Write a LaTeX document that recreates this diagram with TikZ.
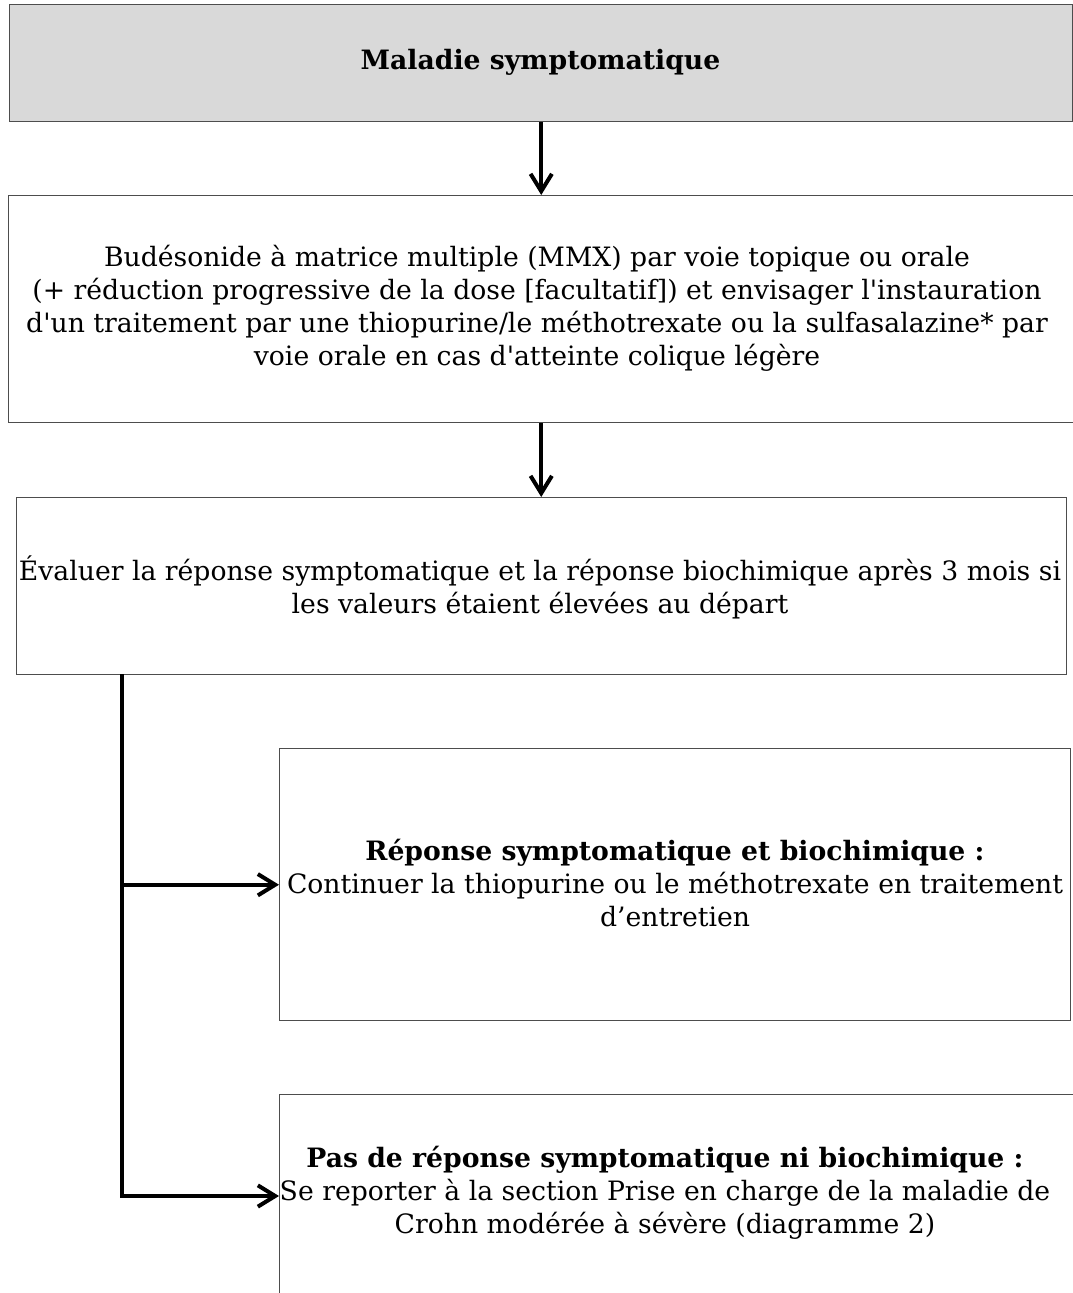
\documentclass[tikz,border=0pt]{standalone}
\usepackage{fontspec}
\setmainfont{DejaVu Serif}[Ligatures=TeXOff]
\usepackage{tikz}
\usetikzlibrary{positioning}
\usetikzlibrary{arrows.meta}
\definecolor{boxgray}{HTML}{D9D9D9}
\definecolor{edgegray}{HTML}{4D4D4D}
\tikzset{my_flow/.style={x=0.75pt,y=-0.75pt,font=\fontsize{20}{24.75}\selectfont}}
\tikzset{my_box/.style={draw=edgegray, line width=1.1pt, rectangle, inner sep=0pt, anchor=north west}}
\tikzset{my_text/.style={align=center, inner sep=0pt}}
\tikzset{my_arrow/.style={-{Straight Barb[length=13pt,width=16pt]}, line width=3pt}}

\begin{document}
\begin{tikzpicture}[my_flow]
    \clip (0,0) rectangle (1073,1293);
    \useasboundingbox (0,0) rectangle (1073,1293);
    %\draw[help lines, step=100] (0,0) grid (1073,1293);

    % boxes
    \node[my_box, fill=boxgray, minimum width=797.25pt, minimum height=87.75pt] (b1) at (9,4) {};
    \node[my_box, minimum width=811.5pt, minimum height=170.25pt] (b2) at (8,195) {};
    \node[my_box, minimum width=787.5pt, minimum height=132.75pt] (b3) at (16,497) {};
    \node[my_box, minimum width=593.25pt, minimum height=204pt] (b4) at (279,748) {};
    \node[my_box, minimum width=608.25pt, minimum height=153pt] (b5) at (279,1094) {};

    % texts
    \node[my_text] (t1) at (540.5,62) {\bfseries Maladie symptomatique};
    \node[my_text] (t2) at (537,308) {Budésonide à matrice multiple (MMX) par voie topique ou orale\\
        (+ réduction progressive de la dose [facultatif]) et envisager l'instauration\\
        d'un traitement par une thiopurine/le méthotrexate ou la sulfasalazine* par\\
        voie orale en cas d'atteinte colique légère};
    \node[my_text] (t3) at (540,587) {Évaluer la réponse symptomatique et la réponse biochimique après 3 mois si\\
        les valeurs étaient élevées au départ};
    \node[my_text] (t4) at (675,883) {{\bfseries Réponse symptomatique et biochimique :}\\
        Continuer la thiopurine ou le méthotrexate en traitement\\
        d’entretien};
    \node[my_text] (t5) at (665,1193) {{\bfseries Pas de réponse symptomatique ni biochimique :}\\
        Se reporter à la section Prise en charge de la maladie de\\
        Crohn modérée à sévère (diagramme 2)};

    \coordinate (fork) at (122,674);
    \coordinate (to5) at (279,1196);

    % connectors
    \draw[my_arrow] (b1.south) -- (b1.south |- b2.north);
    \draw[my_arrow] (b2.south -| b1.south) -- (b1.south |- b3.north);
    \draw[my_arrow] (fork) |- (b4.west);
    \draw[my_arrow] (fork) |- (to5);
\end{tikzpicture}
\end{document}
